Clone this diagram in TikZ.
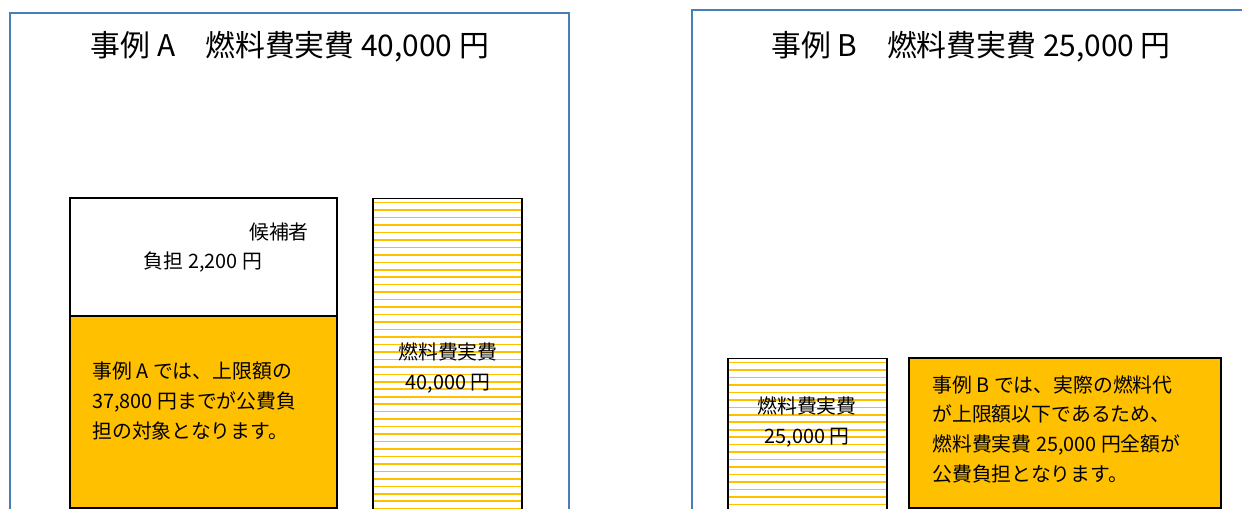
\documentclass[tikz,border=0pt]{standalone}
\usepackage{fontspec}
\setmainfont{Noto Sans CJK JP}
\usetikzlibrary{positioning}
\definecolor{frameblue}{RGB}{74,126,187}
\definecolor{gold}{RGB}{255,192,0}

\begin{document}
\begin{tikzpicture}[x=0.02cm,y=-0.02cm,
    frame/.style={draw=frameblue,line width=1.3pt},
    title/.style={font=\fontsize{17pt}{20pt}\selectfont},
    body/.style={font=\fontsize{11.3pt}{16.9pt}\selectfont,inner sep=0pt},
    share/.style={rectangle,draw=black,line width=1.1pt},
    paid/.style={share,fill=gold},
    actual/.style={share,fill=white,path picture={
        \foreach \k in {0,...,45}
            \draw[gold,line width=0.9pt]
                ([yshift=-2.3pt-\k*4.25pt]path picture bounding box.north west) --
                ([yshift=-2.3pt-\k*4.25pt]path picture bounding box.north east);
    }}
]
\clip (0,0) rectangle (1242,509);

% Case A
\draw[frame] (10,13) rectangle (569,530);
\node[title] (titleA) at (290,47) {事例 A　燃料費実費 40,000 円};
\node[share,minimum width=5.34cm,minimum height=2.36cm] (candA) at (203.5,257) {};
\node[paid,minimum width=5.34cm,minimum height=3.84cm] (paidA) at (203.5,412) {};
\node[body] (candA1) at (279,232) {候補者};
\node[body] (candA2) at (203,262) {負担 2,200 円};
\node[body,anchor=west,align=left] (paidAtext) at (92,401)
    {事例 A では、上限額の\\37,800 円までが公費負\\担の対象となります。};
\node[actual,minimum width=2.98cm,minimum height=6.3cm] (costA) at (447.5,356) {};
\node[body,align=center] (costAtext) at (448,368) {燃料費実費\\40,000 円};

% Case B
\draw[frame] (692,10) rectangle (1270,530);
\node[title] (titleB) at (971,47) {事例 B　燃料費実費 25,000 円};
\node[actual,minimum width=3.18cm,minimum height=3.1cm] (costB) at (807.5,436) {};
\node[body,align=center] (costBtext) at (807,422) {燃料費実費\\25,000 円};
\node[paid,minimum width=6.24cm,minimum height=3cm] (paidB) at (1065,433) {};
\node[body,anchor=west,align=left] (paidBtext) at (932,429)
    {事例 B では、実際の燃料代\\が上限額以下であるため、\\燃料費実費 25,000 円全額が\\公費負担となります。};

\end{tikzpicture}
\end{document}
